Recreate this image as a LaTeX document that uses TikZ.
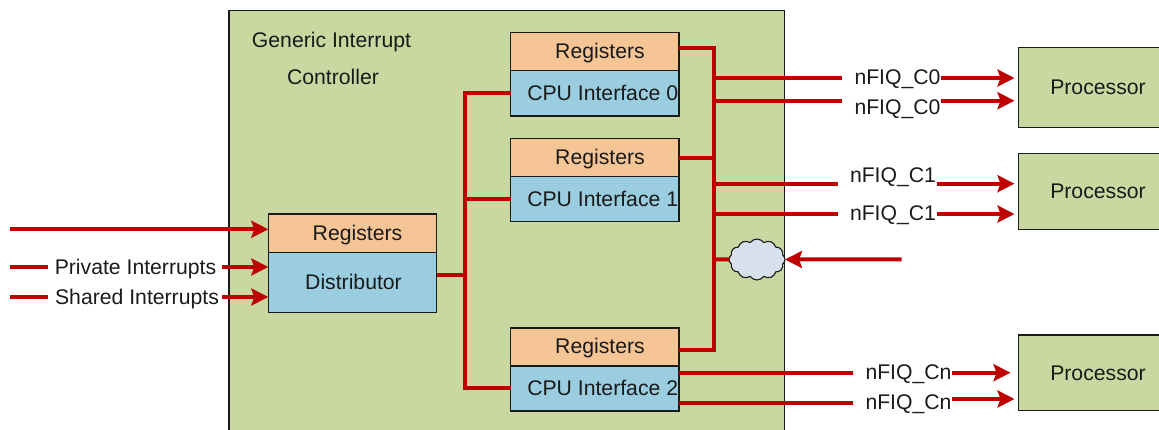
\documentclass[tikz,border=0pt]{standalone}
\usepackage{fontspec}
\setmainfont{Liberation Sans}
\usetikzlibrary{arrows.meta,shapes.symbols}
\definecolor{gicgreen}{HTML}{C9D7A0}
\definecolor{regorange}{HTML}{F5C596}
\definecolor{ifblue}{HTML}{9ACDDF}
\definecolor{cloudblue}{HTML}{D6E1ED}
\definecolor{wire}{HTML}{BF0000}
\definecolor{ink}{HTML}{1A1A1A}
\tikzset{
  boxbase/.style={draw=ink,line width=1.2pt,anchor=north west,inner sep=0pt,outer sep=0pt},
  gicbox/.style={boxbase,fill=gicgreen},
  regbox/.style={boxbase,fill=regorange},
  ifbox/.style={boxbase,fill=ifblue},
  cloudbox/.style={draw=ink,line width=1.1pt,fill=cloudblue,cloud,cloud puffs=12,cloud puff arc=110,aspect=1.4,inner sep=0pt,outer sep=0pt,minimum width=56pt,minimum height=41pt},
  lbl/.style={inner sep=0pt,outer sep=0pt,font=\fontsize{21.2}{21.2}\selectfont,text=ink,anchor=center},
  wireline/.style={draw=wire,line width=4pt,line cap=butt,line join=miter},
  wirearrow/.style={wireline,-{Stealth[length=17pt,width=17pt,inset=3pt]}},
}
\begin{document}
\begin{tikzpicture}[x=1pt,y=-1pt]
\useasboundingbox (0,0) rectangle (1159,429);
\clip (0,0) rectangle (1159,429);
% boxes
\node[gicbox,minimum width=555.5pt,minimum height=440pt] (gic) at (229,10.5) {};
\node[regbox,minimum width=168.4pt,minimum height=38.3pt] (dreg) at (268.3,214) {};
\node[ifbox,minimum width=168.4pt,minimum height=60.4pt] (dist) at (268.3,252.3) {};
\node[regbox,minimum width=168.3pt,minimum height=38pt] (reg0) at (510.7,32.7) {};
\node[ifbox,minimum width=168.3pt,minimum height=45.3pt] (if0) at (510.7,70.7) {};
\node[regbox,minimum width=168.3pt,minimum height=37.6pt] (reg1) at (510.7,138.7) {};
\node[ifbox,minimum width=168.3pt,minimum height=45.4pt] (if1) at (510.7,176.3) {};
\node[regbox,minimum width=168.3pt,minimum height=38pt] (reg2) at (510.7,328) {};
\node[ifbox,minimum width=168.3pt,minimum height=45pt] (if2) at (510.7,366) {};
\node[gicbox,minimum width=160pt,minimum height=79.6pt] (p0) at (1018.7,47.7) {};
\node[gicbox,minimum width=160pt,minimum height=76pt] (p1) at (1018.7,153.3) {};
\node[gicbox,minimum width=160pt,minimum height=75.7pt] (p2) at (1018.7,335) {};
% labels
\node[lbl] (t1) at (331.5,42) {Generic Interrupt};
\node[lbl] (t2) at (333,77) {Controller};
\node[lbl] (t3) at (357.5,235) {Registers};
\node[lbl] (t4) at (353.5,282) {Distributor};
\node[lbl] (t5) at (600,53) {Registers};
\node[lbl] (t6) at (602.7,93) {CPU Interface 0};
\node[lbl] (t7) at (600,159) {Registers};
\node[lbl] (t8) at (602.7,199) {CPU Interface 1};
\node[lbl] (t9) at (600,348) {Registers};
\node[lbl] (t10) at (602.7,388) {CPU Interface 2};
\node[lbl] (t11) at (1098,87) {Processor};
\node[lbl] (t12) at (1098,191) {Processor};
\node[lbl] (t13) at (1098,373) {Processor};
\node[lbl] (t14) at (135.5,269) {Private Interrupts};
\node[lbl] (t15) at (137,299) {Shared Interrupts};
\node[lbl] (t16) at (897.5,79.5) {nFIQ\_C0};
\node[lbl] (t17) at (897.5,109.5) {nFIQ\_C0};
\node[lbl] (t18) at (893,177.5) {nFIQ\_C1};
\node[lbl] (t19) at (893,215.5) {nFIQ\_C1};
\node[lbl] (t20) at (908.5,374.5) {nFIQ\_Cn};
\node[lbl] (t21) at (908.5,404.5) {nFIQ\_Cn};
% junction coordinates
\coordinate (busT) at (713.7,47.7);
\coordinate (busB) at (713.7,350.3);
\coordinate (busA) at (713.7,158);
\coordinate (busC0a) at (713.7,78);
\coordinate (busC0b) at (713.7,100.7);
\coordinate (busC1a) at (713.7,183.7);
\coordinate (busC1b) at (713.7,214);
\coordinate (busCl) at (713.7,259.3);
\coordinate (lbusT) at (465,93.3);
\coordinate (lbusM) at (465,199.3);
\coordinate (lbusB) at (465,387.5);
\coordinate (lbusD) at (465,274.7);
% free ends
\coordinate (a0s) at (842,78);   \coordinate (a0r) at (941,78);
\coordinate (b0s) at (842,100.7);\coordinate (b0r) at (941,100.7);
\coordinate (a1s) at (838,183.7);\coordinate (a1r) at (937,183.7);
\coordinate (b1s) at (838,214);  \coordinate (b1r) at (937,214);
\coordinate (ans) at (853,372.7);\coordinate (anr) at (952,372.7);
\coordinate (bns) at (853,403);  \coordinate (bnr) at (952,399);
\coordinate (in0) at (10.3,229.3);
\coordinate (in1) at (10.3,267); \coordinate (in1e) at (48,267); \coordinate (in1r) at (222,267);
\coordinate (in2) at (10.3,297); \coordinate (in2e) at (48,297); \coordinate (in2r) at (222,297);
\coordinate (clin) at (901.7,259.3);
% connectors
\draw[wireline] (dist.east |- lbusD) -- (lbusD);
\draw[wireline] (if0.west |- lbusT) -- (lbusT) -- (lbusB) -- (if2.west |- lbusB);
\draw[wireline] (if1.west |- lbusM) -- (lbusM);
\draw[wireline] (reg0.east |- busT) -- (busT) -- (busB) -- (reg2.east |- busB);
\draw[wireline] (reg1.east |- busA) -- (busA);
\draw[wireline] (busC0a) -- (a0s);
\draw[wireline] (busC0b) -- (b0s);
\draw[wireline] (busC1a) -- (a1s);
\draw[wireline] (busC1b) -- (b1s);
\draw[wireline] (if2.east |- ans) -- (ans);
\draw[wireline] (if2.east |- bns) -- (bns);
\draw[wireline] (in1) -- (in1e);
\draw[wireline] (in2) -- (in2e);
\draw[wirearrow] (a0r) -- (1014.5,78);
\draw[wirearrow] (b0r) -- (1014.5,100.7);
\draw[wirearrow] (a1r) -- (1014.5,183.7);
\draw[wirearrow] (b1r) -- (1014.5,214);
\draw[wirearrow] (anr) -- (1010.5,372.7);
\draw[wirearrow] (bnr) -- (1014.5,399);
\draw[wirearrow] (in0) -- (dreg.west |- in0);
\draw[wirearrow] (in1r) -- (dist.west |- in1r);
\draw[wirearrow] (in2r) -- (dist.west |- in2r);
\node[cloudbox] (cl) at (757,259.5) {};
\draw[wireline] (busCl) -- (cl.west);
\draw[wirearrow] (clin) -- (cl.east);
\end{tikzpicture}
\end{document}
